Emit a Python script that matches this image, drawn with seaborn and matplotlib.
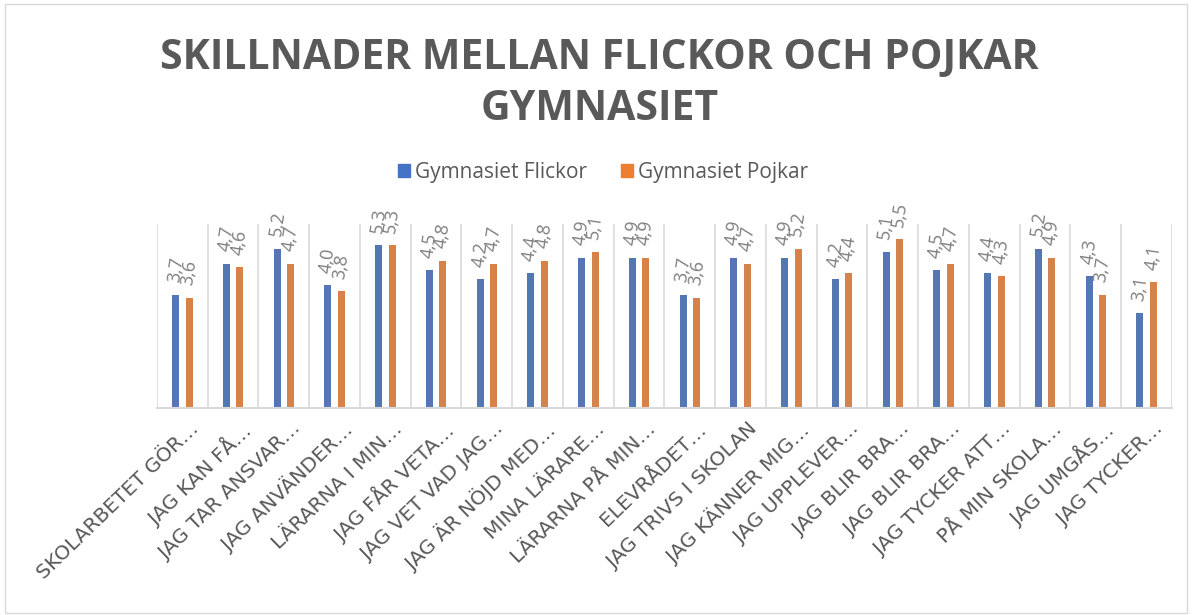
import numpy as np
import pandas as pd
import seaborn as sns
import matplotlib.pyplot as plt
from matplotlib.transforms import ScaledTranslation

# data
fragor = ["SKOLARBETET GÖR…", "JAG KAN FÅ…", "JAG TAR ANSVAR…", "JAG ANVÄNDER…",
          "LÄRARNA I MIN…", "JAG FÅR VETA…", "JAG VET VAD JAG…", "JAG ÄR NÖJD MED…",
          "MINA LÄRARE…", "LÄRARNA PÅ MIN…", "ELEVRÅDET…", "JAG TRIVS I SKOLAN",
          "JAG KÄNNER MIG…", "JAG UPPLEVER…", "JAG BLIR BRA…", "JAG BLIR BRA…",
          "JAG TYCKER ATT…", "PÅ MIN SKOLA…", "JAG UMGÅS…", "JAG TYCKER…"]
flickor = [3.7, 4.7, 5.2, 4.0, 5.3, 4.5, 4.2, 4.4, 4.9, 4.9,
           3.7, 4.9, 4.9, 4.2, 5.1, 4.5, 4.4, 5.2, 4.3, 3.1]
pojkar = [3.6, 4.6, 4.7, 3.8, 5.3, 4.8, 4.7, 4.8, 5.1, 4.9,
          3.6, 4.7, 5.2, 4.4, 5.5, 4.7, 4.3, 4.9, 3.7, 4.1]
serier = ["Gymnasiet Flickor", "Gymnasiet Pojkar"]
farger = ["#4472C4", "#ED7D31"]

# long format table, index as key so duplicate labels stay separate
n = len(fragor)
df = pd.DataFrame({
    "nr": list(range(n)) * 2,
    "varde": flickor + pojkar,
    "serie": [serier[0]] * n + [serier[1]] * n,
})

sns.set_style("white")
plt.rcParams['font.family'] = ['Open Sans', 'DejaVu Sans']
gra = "#595959"

fig = plt.figure(figsize=(11.92, 6.15), dpi=100)
ax = fig.add_axes([0.1317, 0.3366, 0.8515, 0.2992])

sns.barplot(data=df, x="nr", y="varde", hue="serie", hue_order=serier,
            palette=farger, width=0.53, gap=0.48, ax=ax, legend=False,
            edgecolor="none")

# datalabels with decimal comma
for cont in ax.containers:
    etiketter = [f"{b.get_height():.1f}".replace(".", ",") for b in cont]
    ax.bar_label(cont, labels=etiketter, rotation=82, padding=8,
                 fontsize=13, color="#7F7F7F")

ax.set_ylim(0, 6)
ax.set_xlim(-0.5, n - 0.5)
ax.set_yticks([])
ax.set_xlabel("")
ax.set_ylabel("")
ax.set_xticks(range(n))
ax.set_xticklabels(fragor, rotation=44, ha="right", rotation_mode="anchor",
                   fontsize=14.5, color=gra, family=["DejaVu Sans"])
ax.tick_params(axis="x", length=0, pad=8)
skift = ScaledTranslation(0.07, 0.0, fig.dpi_scale_trans)
for lbl in ax.get_xticklabels():
    lbl.set_transform(lbl.get_transform() + skift)
ax.set_xticks(np.arange(-0.5, n, 1), minor=True)
ax.grid(which="minor", axis="x", color="#D9D9D9", linewidth=1.2)
ax.tick_params(which="minor", length=0)
for s in ["top", "left", "right"]:
    ax.spines[s].set_visible(False)
ax.spines["bottom"].set_color("#D9D9D9")
ax.spines["bottom"].set_linewidth(1.5)

fig.text(0.503, 0.905, "SKILLNADER MELLAN FLICKOR OCH POJKAR", ha="center", va="center",
         fontsize=29.5, fontweight="bold", color=gra)
fig.text(0.503, 0.822, "GYMNASIET", ha="center", va="center",
         fontsize=29.5, fontweight="bold", color=gra)

handles = [plt.Rectangle((0, 0), 1, 1, color=c) for c in farger]
fig.legend(handles, serier, loc="center", bbox_to_anchor=(0.506, 0.72), ncol=2,
           frameon=False, fontsize=15, labelcolor=gra, handlelength=0.6,
           handleheight=0.6, handletextpad=0.25, columnspacing=1.6)

fig.patches.append(plt.Rectangle((0.004, 0.004), 0.992, 0.99, transform=fig.transFigure,
                                 fill=False, edgecolor="#D9D9D9", linewidth=1))

plt.savefig("out.png", dpi=100)
